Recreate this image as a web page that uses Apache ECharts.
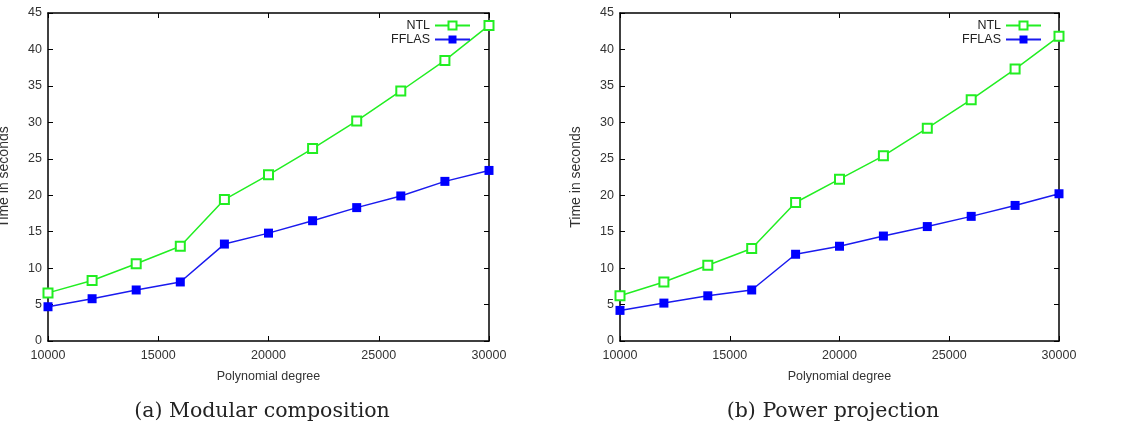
<!DOCTYPE html>
<html>
<head>
    <meta charset="utf-8">
    <title>NTL vs FFLAS</title>
    <script src="https://cdn.jsdelivr.net/npm/echarts@6/dist/echarts.min.js"></script>
    <style>
        html, body { margin: 0; padding: 0; background: #fff; }
        #main { width: 1122px; height: 429px; }
    </style>
</head>
<body>
<div id="main"></div>
<script type="text/javascript">
    // polynomial degrees (x)
    var degrees = [10000, 12000, 14000, 16000, 18000, 20000, 22000, 24000, 26000, 28000, 30000];
    // (a) modular composition, seconds
    var modNTL   = [6.6, 8.3, 10.6, 13.0, 19.4, 22.8, 26.4, 30.2, 34.3, 38.5, 43.3];
    var modFFLAS = [4.7, 5.8, 7.0, 8.1, 13.3, 14.8, 16.5, 18.3, 19.9, 21.9, 23.4];
    // (b) power projection, seconds
    var powNTL   = [6.2, 8.1, 10.4, 12.7, 19.0, 22.2, 25.4, 29.2, 33.1, 37.3, 41.8];
    var powFFLAS = [4.2, 5.2, 6.2, 7.0, 11.9, 13.0, 14.4, 15.7, 17.1, 18.6, 20.2];
    var captions = ['(a) Modular composition', '(b) Power projection'];

    function pairs(ys) {
        return degrees.map(function (d, i) { return [d, ys[i]]; });
    }

    var green = '#22ee22', blue = '#1a1aee';
    var labelFont = { fontFamily: 'Liberation Sans', fontSize: 12.5, color: '#333' };
    var lineAxis = { onZero: false, lineStyle: { color: '#000', width: 1.5 } };
    var tick = { inside: true, length: 5, lineStyle: { color: '#000' } };

    var grids = [
        { left: 48, right: 633, top: 13, bottom: 88, outerBoundsMode: 'none', containLabel: false },
        { left: 620, right: 63, top: 13, bottom: 88, outerBoundsMode: 'none', containLabel: false }
    ];

    var xAxes = [], yAxes = [], series = [], legends = [], titles = [];
    var sets = [[modNTL, modFFLAS], [powNTL, powFFLAS]];
    var legendRight = [646, 75];
    var captionX = [257, 828];

    for (var g = 0; g < 2; g++) {
        // bottom x + mirrored top x
        xAxes.push({
            gridIndex: g, type: 'value', min: 10000, max: 30000, interval: 5000,
            name: 'Polynomial degree', nameLocation: 'middle', nameGap: 29,
            nameTextStyle: labelFont,
            axisLine: lineAxis, axisTick: tick,
            axisLabel: Object.assign({ margin: 8, formatter: function (v) { return String(v); } }, labelFont),
            splitLine: { show: false }
        });
        xAxes.push({
            gridIndex: g, type: 'value', position: 'top', min: 10000, max: 30000, interval: 5000,
            axisLine: lineAxis, axisTick: tick,
            axisLabel: { show: false },
            splitLine: { show: false }
        });
        yAxes.push({
            gridIndex: g, type: 'value', min: 0, max: 45, interval: 5,
            name: 'Time in seconds', nameLocation: 'middle', nameGap: 37,
            nameTextStyle: { fontFamily: 'Liberation Sans', fontSize: 14, color: '#333' },
            axisLine: lineAxis, axisTick: tick,
            axisLabel: Object.assign({ margin: 6 }, labelFont),
            splitLine: { show: false }
        });
        yAxes.push({
            gridIndex: g, type: 'value', position: 'right', min: 0, max: 45, interval: 5,
            axisLine: lineAxis, axisTick: tick,
            axisLabel: { show: false },
            splitLine: { show: false }
        });

        series.push({
            name: 'NTL', type: 'line', xAxisIndex: g * 2, yAxisIndex: g * 2,
            data: pairs(sets[g][0]),
            symbol: 'emptyRect', symbolSize: 9,
            lineStyle: { color: green, width: 1.5 },
            itemStyle: { color: green, borderColor: green, borderWidth: 1.5 },
            emphasis: { disabled: true }
        });
        series.push({
            name: 'FFLAS', type: 'line', xAxisIndex: g * 2, yAxisIndex: g * 2,
            data: pairs(sets[g][1]),
            symbol: 'rect', symbolSize: 9,
            lineStyle: { color: blue, width: 1.5 },
            itemStyle: { color: '#0000ff' },
            emphasis: { disabled: true }
        });

        legends.push({
            orient: 'vertical', right: legendRight[g], top: 14,
            align: 'right', itemWidth: 35, itemHeight: 10, itemGap: 1,
            textStyle: { fontFamily: 'Liberation Sans', fontSize: 12.5, color: '#222' },
            data: ['NTL', 'FFLAS']
        });

        titles.push({
            text: captions[g], left: captionX[g], top: 396, textAlign: 'center',
            textStyle: { fontFamily: 'DejaVu Serif', fontSize: 20.5, fontWeight: 'normal', color: '#222' }
        });
    }

    var myChart = echarts.init(document.getElementById('main'));
    myChart.setOption({
        animation: false,
        title: titles,
        legend: legends,
        grid: grids,
        xAxis: xAxes,
        yAxis: yAxes,
        series: series
    });
</script>
</body>
</html>
